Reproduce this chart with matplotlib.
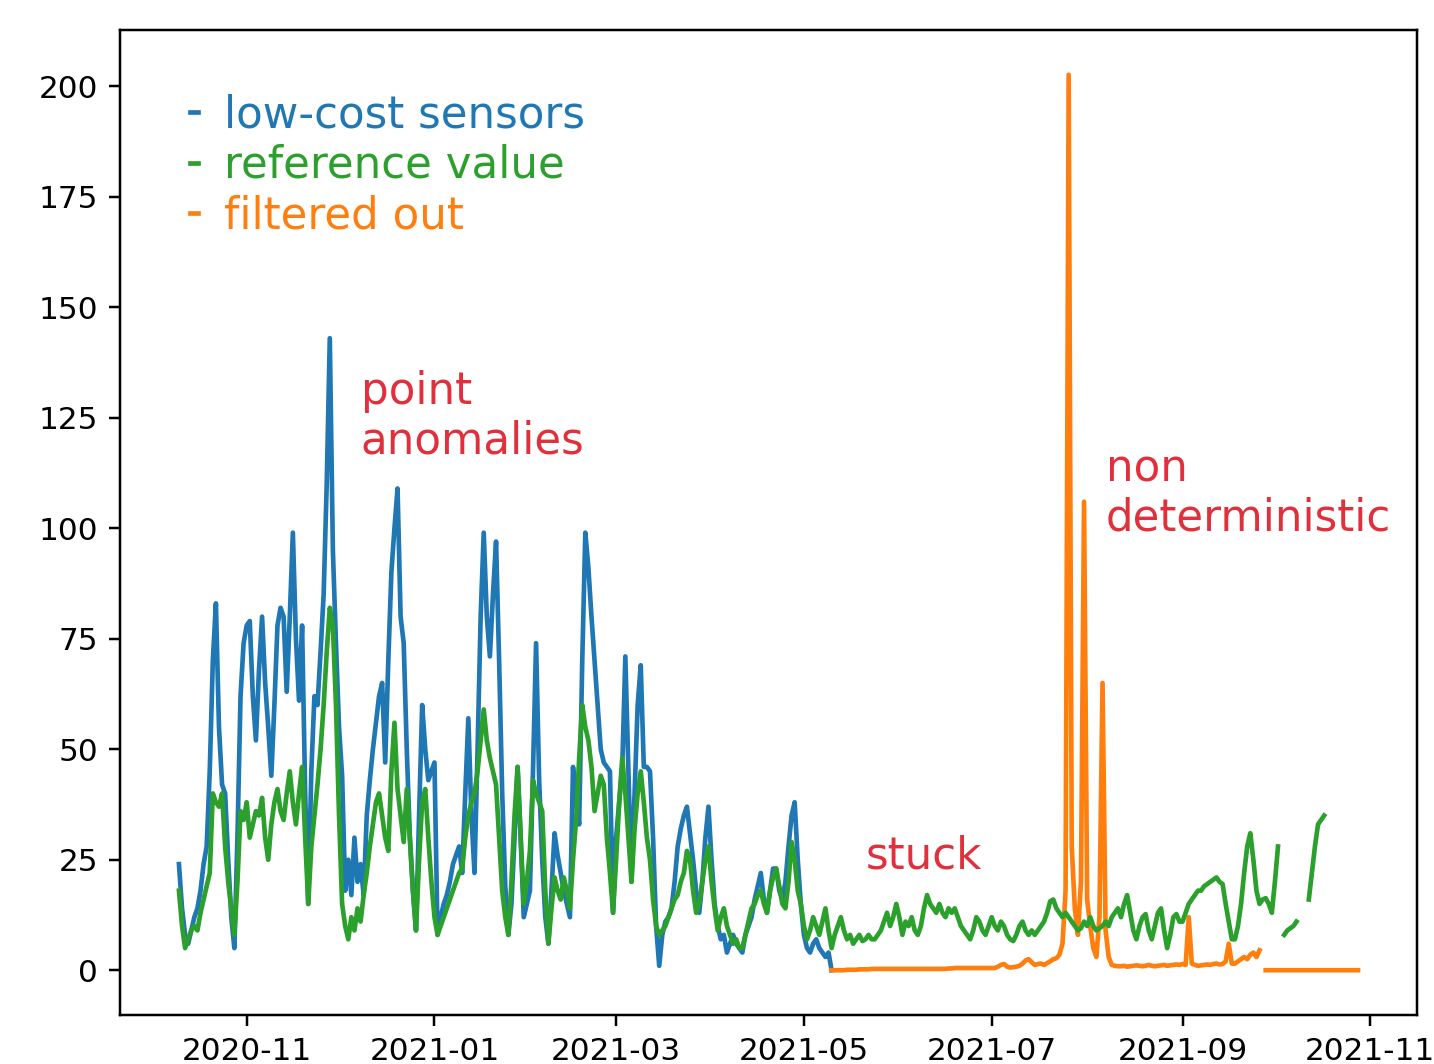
import numpy as np
import pandas as pd
import matplotlib
matplotlib.use("Agg")
import matplotlib.pyplot as plt
import matplotlib.dates as mdates

nan = np.nan

# Daily PM readings
sensor_start = "2020-10-10"
sensor_values = [
    24, 14, 8, 6, 9, 12, 14, 18, 24, 28,
    45, 70, 83, 55, 42, 40, 25, 12, 5, 30,
    62, 74, 78, 79, 62, 52, 68, 80, 65, 55,
    44, 60, 78, 82, 80, 63, 80, 99, 75, 61,
    78, 40, 15, 45, 62, 60, 72, 85, 110, 143,
    95, 74, 55, 44, 18, 25, 17, 30, 20, 24,
    17, 35, 43, 50, 56, 62, 65, 47, 70, 90,
    100, 109, 80, 74, 50, 30, 18, 9, 35, 60,
    50, 43, 45, 47, 8, 12, 15, 17, 20, 24,
    26, 28, 22, 40, 57, 35, 22, 50, 80, 99,
    80, 71, 85, 97, 70, 40, 19, 8, 15, 30,
    46, 30, 12, 15, 18, 45, 74, 43, 25, 12,
    6, 18, 31, 26, 22, 18, 15, 12, 46, 38,
    33, 70, 99, 91, 80, 70, 60, 50, 47, 46,
    45, 13, 30, 38, 46, 71, 45, 20, 40, 60,
    69, 46, 46, 45, 30, 10, 1, 8, 11, 12,
    14, 20, 28, 32, 35, 37, 31, 25, 18, 13,
    20, 30, 37, 25, 15, 10, 7, 8, 4, 6,
    8, 6, 5, 4, 8, 10, 12, 16, 19, 22,
    16, 13, 18, 23, 23, 18, 16, 20, 28, 35,
    38, 25, 15, 8, 5, 4, 6, 7, 5, 4,
    3, 4, 0,
]

reference_start = "2020-10-10"
reference_values = [
    18, 10, 5, 7, 9, 10, 9, 13, 16, 19,
    22, 40, 38, 37, 40, 28, 20, 14, 8, 20,
    36, 34, 38, 30, 33, 36, 35, 39, 30, 25,
    33, 38, 41, 36, 34, 40, 45, 38, 33, 40,
    46, 30, 15, 28, 35, 42, 50, 60, 72, 82,
    78, 60, 35, 15, 10, 7, 12, 9, 14, 11,
    17, 22, 28, 33, 38, 40, 35, 30, 27, 45,
    56, 41, 35, 29, 41, 30, 18, 9, 25, 38,
    41, 30, 20, 12, 8, 10, 12, 14, 16, 18,
    20, 22, 23, 30, 35, 38, 40, 45, 52, 59,
    52, 48, 45, 42, 30, 18, 12, 8, 20, 35,
    46, 30, 15, 20, 27, 43, 40, 38, 36, 18,
    6, 14, 21, 18, 16, 21, 18, 14, 25, 34,
    48, 60, 55, 52, 46, 36, 40, 44, 42, 30,
    22, 13, 25, 38, 48, 40, 30, 20, 32, 40,
    45, 38, 30, 25, 16, 10, 8, 9, 10, 12,
    14, 16, 17, 20, 22, 27, 25, 18, 13, 15,
    20, 25, 28, 20, 14, 9, 12, 14, 10, 8,
    6, 7, 5, 5, 8, 11, 14, 15, 17, 18,
    15, 13, 18, 21, 23, 19, 15, 14, 20, 29,
    25, 18, 15, 10, 7, 9, 12, 10, 8, 11,
    14, 9, 5, 8, 10, 12, 9, 7, 8, 6,
    7, 8, 6.6, 7, 8, 7, 7, 8, 9, 11,
    13, 10, 12, 15, 12, 8, 11, 10, 12, 9,
    8, 10, 14, 17, 15, 14, 13, 15, 13, 12,
    14, 13, 14, 12, 10, 9, 8, 7, 9, 12,
    11, 9, 8, 10, 12, 10, 9, 11, 10, 8,
    7, 6.6, 8, 10, 11, 9, 8, 9, 8, 9,
    10, 11, 13, 15.6, 16, 14, 13, 12, 13, 12,
    11, 10, 9, 9.5, 11, 10, 12, 10, 9, 9.5,
    10, 11, 10, 12, 13, 14, 12, 15, 17, 13,
    9, 7, 10, 12, 12.7, 9, 7, 10, 13, 14,
    9, 5, 8, 12, 12.7, 11, 11, 13, 15, 16,
    17, 18, 18, 19, 19.5, 20, 20.5, 21, 20, 19.5,
    15, 11, 7, 7, 10, 15, 22, 28, 31, 25,
    18, 15, 16, 16.3, 15, 13, 20, 28, nan, 8,
    9, 9.5, 10, 11, nan, nan, nan, 16, 22, 28,
    33, 34, 35,
]

filtered_start = "2021-05-10"
filtered_values = [
    0, 0, 0, 0, 0, 0.1, 0.1, 0.1, 0.1, 0.2,
    0.2, 0.2, 0.2, 0.3, 0.3, 0.3, 0.3, 0.3, 0.3, 0.3,
    0.3, 0.3, 0.3, 0.3, 0.3, 0.3, 0.3, 0.3, 0.3, 0.3,
    0.3, 0.3, 0.3, 0.3, 0.3, 0.3, 0.3, 0.3, 0.4, 0.4,
    0.5, 0.5, 0.5, 0.5, 0.5, 0.5, 0.5, 0.5, 0.5, 0.5,
    0.5, 0.5, 0.5, 0.5, 0.8, 1.2, 1.4, 0.8, 0.6, 0.7,
    0.8, 1.0, 1.5, 2.2, 2.5, 1.8, 1.2, 1.4, 1.5, 1.2,
    1.6, 2.0, 2.5, 2.7, 3.5, 6, 18, 202.6, 28, 14,
    8, 20, 106, 16, 10, 5, 3, 12, 65, 9,
    3, 1.2, 1.0, 0.9, 0.9, 1.0, 0.8, 0.9, 1.0, 1.1,
    1.0, 0.9, 1.0, 1.2, 1.0, 0.9, 1.0, 1.1, 1.2, 1.0,
    1.1, 1.2, 1.3, 1.2, 1.4, 1.2, 12, 1.5, 1.2, 1.0,
    1.1, 1.2, 1.3, 1.2, 1.4, 1.5, 1.3, 1.4, 2, 6,
    1.5, 1.5, 2, 2.5, 3, 2.5, 3.5, 4, 3, 4.5,
    nan, 0, 0, 0, 0, 0, 0, 0, 0, 0,
    0, 0, 0, 0, 0, 0, 0, 0, 0, 0,
    0, 0, 0, 0, 0, 0, 0, 0, 0, 0,
    0, 0,
]

legend_labels = ["low-cost sensors", "reference value", "filtered out"]
tick_values = [0, 25, 50, 75, 100, 125, 150, 175, 200]

sensor_dates = pd.date_range(sensor_start, periods=len(sensor_values), freq="D")
reference_dates = pd.date_range(reference_start, periods=len(reference_values), freq="D")
filtered_dates = pd.date_range(filtered_start, periods=len(filtered_values), freq="D")

W, H, DPI = 1434, 1064, 224
fig = plt.figure(figsize=(W / DPI, H / DPI), dpi=DPI)
ax = fig.add_axes([120 / W, 49 / H, 1297 / W, 985 / H])

l_sensor, = ax.plot(sensor_dates, sensor_values, color="#1f77b4", lw=1.5)
l_filtered, = ax.plot(filtered_dates, filtered_values, color="#ff7f0e", lw=1.5)
l_reference, = ax.plot(reference_dates, reference_values, color="#2ca02c", lw=1.5)

ax.set_yticks(tick_values)
ax.xaxis.set_major_locator(mdates.MonthLocator(bymonth=[1, 3, 5, 7, 9, 11]))
ax.xaxis.set_major_formatter(mdates.DateFormatter("%Y-%m"))

ax.legend([l_sensor, l_reference, l_filtered], legend_labels,
          loc="upper left", bbox_to_anchor=(0.054, 0.936),
          frameon=False, fontsize=14, labelcolor="linecolor",
          handlelength=0.18, handletextpad=0.6, labelspacing=0.18,
          borderpad=0.0, borderaxespad=0.0)

note_color = "#e0303c"
ax.text(pd.Timestamp("2020-12-08"), 116.9, "point\nanomalies",
        color=note_color, fontsize=14, va="baseline", ha="left")
ax.text(pd.Timestamp("2021-05-21"), 23.1, "stuck",
        color=note_color, fontsize=14, va="baseline", ha="left")
ax.text(pd.Timestamp("2021-08-07"), 99.4, "non\ndeterministic",
        color=note_color, fontsize=14, va="baseline", ha="left")

fig.savefig("out.png", dpi=DPI)
